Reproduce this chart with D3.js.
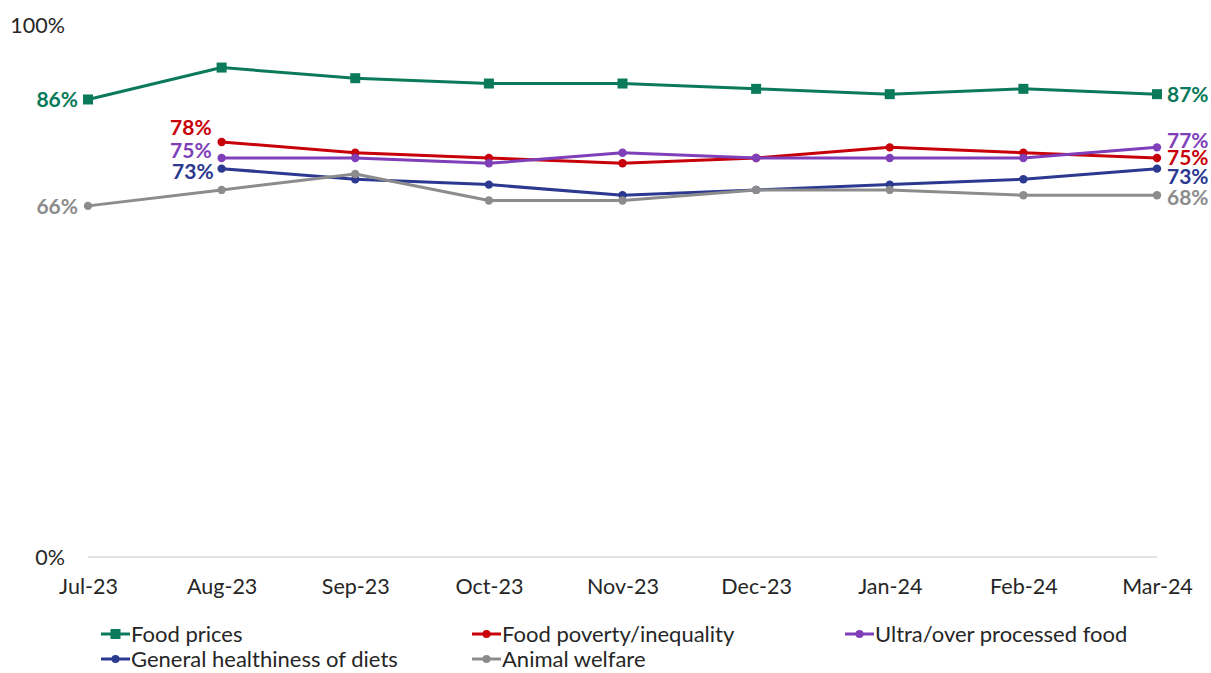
<!DOCTYPE html>
<html>
<head>
<meta charset="utf-8">
<script src="https://cdn.jsdelivr.net/npm/d3@7"></script>
<style>
  html, body { margin: 0; padding: 0; background: #fff; }
  svg { display: block; font-family: Lato, "Open Sans", sans-serif; }
</style>
</head>
<body>
<svg id="chart" width="1211" height="673"></svg>
<script>
// Monthly share (%) of respondents concerned about each issue
const months = ["Jul-23", "Aug-23", "Sep-23", "Oct-23", "Nov-23", "Dec-23", "Jan-24", "Feb-24", "Mar-24"];
const foodPrices    = [86, 92, 90, 89, 89, 88, 87, 88, 87];
const foodPoverty   = [null, 78, 76, 75, 74, 75, 77, 76, 75];
const ultraProcessed = [null, 75, 75, 74, 76, 75, 75, 75, 77];
const healthiness   = [null, 73, 71, 70, 68, 69, 70, 71, 73];
const animalWelfare = [66, 69, 72, 67, 67, 69, 69, 68, 68];
const yTickLabels = ["0%", "100%"];

const seriesNames  = ["Food prices", "Food poverty/inequality", "Ultra/over processed food", "General healthiness of diets", "Animal welfare"];
const seriesColors = ["#0A7A5A", "#C8000A", "#7E3FB8", "#2B3990", "#8C8C8C"];

const series = [
  { name: seriesNames[0], values: foodPrices,     color: seriesColors[0], marker: "square" },
  { name: seriesNames[1], values: foodPoverty,    color: seriesColors[1], marker: "circle" },
  { name: seriesNames[2], values: ultraProcessed, color: seriesColors[2], marker: "circle" },
  { name: seriesNames[3], values: healthiness,    color: seriesColors[3], marker: "circle" },
  { name: seriesNames[4], values: animalWelfare,  color: seriesColors[4], marker: "circle" }
];

const svg = d3.select("#chart");

const x = d3.scalePoint().domain(months).range([88, 1157]);
const y = d3.scaleLinear().domain([0, 100]).range([557, 25]);

// Baseline (category axis)
svg.append("line")
  .attr("x1", 88).attr("x2", 1157)
  .attr("y1", y(0)).attr("y2", y(0))
  .attr("stroke", "#d9d9d9").attr("stroke-width", 1.5);

// Y axis labels: only the extremes are shown
svg.selectAll(".ytick")
  .data([0, 100])
  .join("text")
  .attr("class", "ytick")
  .attr("x", 65)
  .attr("y", d => y(d))
  .attr("dy", "0.35em")
  .attr("text-anchor", "end")
  .attr("font-size", 21.5)
  .attr("fill", "#262626")
  .text((d, i) => yTickLabels[i]);

// X axis labels
const xAxis = d3.axisBottom(x).tickSize(0).tickPadding(0);
const gx = svg.append("g").attr("transform", `translate(0, ${y(0) + 22})`).call(xAxis);
gx.select(".domain").remove();
gx.selectAll("text")
  .attr("dy", "0.71em")
  .attr("font-size", 21.5)
  .attr("font-family", "Lato, 'Open Sans', sans-serif")
  .attr("fill", "#262626");

// Lines and markers
const line = d3.line()
  .defined(d => d.v !== null)
  .x(d => x(d.m))
  .y(d => y(d.v));

series.forEach(s => {
  const pts = months.map((m, i) => ({ m, v: s.values[i] }));
  svg.append("path")
    .datum(pts)
    .attr("fill", "none")
    .attr("stroke", s.color)
    .attr("stroke-width", 3)
    .attr("stroke-linejoin", "round")
    .attr("d", line);

  const valid = pts.filter(d => d.v !== null);
  if (s.marker === "square") {
    svg.selectAll(null).data(valid).join("rect")
      .attr("x", d => x(d.m) - 5)
      .attr("y", d => y(d.v) - 5)
      .attr("width", 10).attr("height", 10)
      .attr("fill", s.color);
  } else {
    svg.selectAll(null).data(valid).join("circle")
      .attr("cx", d => x(d.m))
      .attr("cy", d => y(d.v))
      .attr("r", 4.2)
      .attr("fill", s.color);
  }
});

// Data labels at the first and last points of each series
const startLabels = [
  { s: 0, dx: -10, dy: 0 },
  { s: 1, dx: -10, dy: -14 },
  { s: 2, dx: -10, dy: -7 },
  { s: 3, dx: -8,  dy: 3 },
  { s: 4, dx: -10, dy: 1 }
];
const endLabels = [
  { s: 0, dx: 10, dy: 0 },
  { s: 2, dx: 10, dy: -7 },
  { s: 1, dx: 10, dy: 0 },
  { s: 3, dx: 10, dy: 8 },
  { s: 4, dx: 10, dy: 2 }
];

startLabels.forEach(l => {
  const s = series[l.s];
  const i = s.values.findIndex(v => v !== null);
  svg.append("text")
    .attr("x", x(months[i]) + l.dx)
    .attr("y", y(s.values[i]) + l.dy)
    .attr("dy", "0.35em")
    .attr("text-anchor", "end")
    .attr("font-size", 21)
    .attr("font-weight", "bold")
    .attr("fill", s.color)
    .text(s.values[i] + "%");
});

endLabels.forEach(l => {
  const s = series[l.s];
  const i = s.values.length - 1;
  svg.append("text")
    .attr("x", x(months[i]) + l.dx)
    .attr("y", y(s.values[i]) + l.dy)
    .attr("dy", "0.35em")
    .attr("text-anchor", "start")
    .attr("font-size", 21)
    .attr("font-weight", "bold")
    .attr("fill", s.color)
    .text(s.values[i] + "%");
});

// Legend
const legendPos = [
  { x: 101, y: 634 }, { x: 472, y: 634 }, { x: 845, y: 634 },
  { x: 101, y: 659 }, { x: 472, y: 659 }
];
series.forEach((s, i) => {
  const g = svg.append("g").attr("transform", `translate(${legendPos[i].x}, ${legendPos[i].y})`);
  g.append("line").attr("x1", 0).attr("x2", 29).attr("y1", 0).attr("y2", 0)
    .attr("stroke", s.color).attr("stroke-width", 3);
  if (s.marker === "square") {
    g.append("rect").attr("x", 9.5).attr("y", -5).attr("width", 10).attr("height", 10).attr("fill", s.color);
  } else {
    g.append("circle").attr("cx", 14.5).attr("cy", 0).attr("r", 4).attr("fill", s.color);
  }
  g.append("text")
    .attr("x", 30).attr("y", 0).attr("dy", "0.35em")
    .attr("font-size", 22)
    .attr("fill", "#262626")
    .text(s.name);
});
</script>
</body>
</html>
